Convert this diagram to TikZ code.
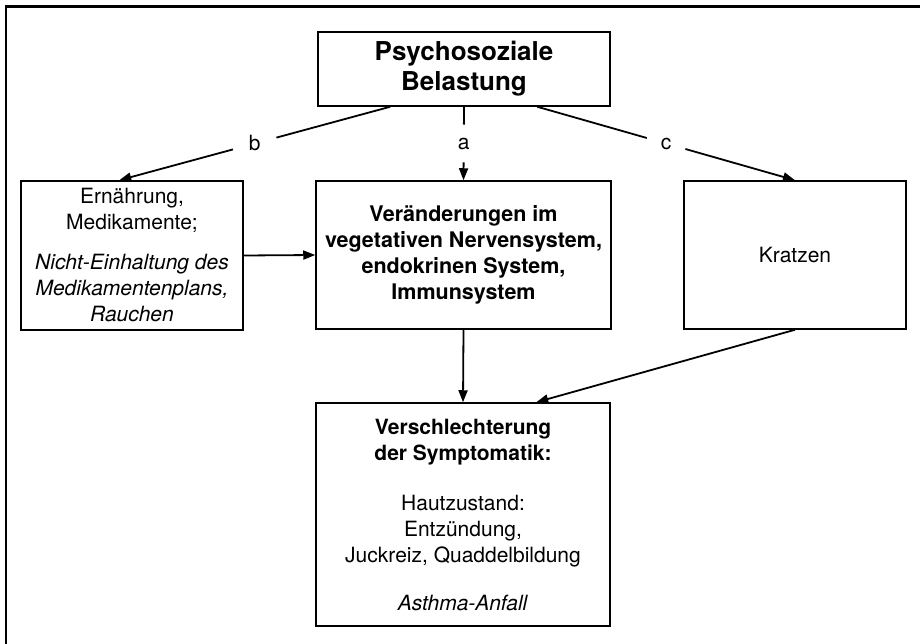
\documentclass[tikz,border=0pt]{standalone}
\usepackage{fontspec}
\setmainfont{TeX Gyre Heros}
\usetikzlibrary{arrows.meta,calc}
\begin{document}
\begin{tikzpicture}[x=1pt,y=-1pt,
  box/.style={draw, line width=1.5pt, align=center, inner sep=0pt, font=\fontsize{21}{26}\selectfont},
  conn/.style={line width=1.8pt, -{Triangle[length=12pt,width=9pt]}},
  lbl/.style={fill=white, circle, inner sep=0pt, font=\fontsize{21}{26}\selectfont}]
\useasboundingbox (0,0) rectangle (920,644);
\draw[line width=2.5pt] (6,644) -- (6,6.5) -- (920,6.5);

\node[box, minimum width=292pt, minimum height=74pt, font=\fontsize{26}{30}\selectfont\bfseries] (top) at (464,69) {Psychosoziale\\Belastung};

\node[box, minimum width=222pt, minimum height=149pt] (left) at (132,255.5)
  {Ernährung,\\ Medikamente;\\[14pt] \textit{Nicht-Einhaltung des}\\ \textit{Medikamentenplans,}\\ \textit{Rauchen}};

\node[box, minimum width=295pt, minimum height=148pt, font=\fontsize{21.5}{26}\selectfont\bfseries] (mid) at (463.5,255)
  {Veränderungen im\\ vegetativen Nervensystem,\\ endokrinen System,\\ Immunsystem};

\node[box, minimum width=222pt, minimum height=148pt] (right) at (795,255) {Kratzen};

\node[box, minimum width=294pt, minimum height=223pt] (bot) at (463,514.5)
  {\textbf{Verschlechterung}\\ \textbf{der Symptomatik:}\\[24pt] Hautzustand:\\ Entzündung,\\ Juckreiz, Quaddelbildung\\[22pt] \textit{Asthma-Anfall}};

\draw[conn] ([xshift=73pt]top.south west) -- node[lbl, minimum size=45pt]{b} ([xshift=99pt]left.north west);
\draw[conn] (top.south) -- node[lbl, minimum size=38pt]{a} (mid.north);
\draw[conn] ([xshift=220pt]top.south west) -- node[lbl, minimum size=40pt]{c} (right.north);
\draw[conn] (left.east) -- (mid.west);
\draw[conn] (mid.south) -- (bot.north);
\draw[conn] (right.south) -- ([xshift=221pt]bot.north west);
\end{tikzpicture}
\end{document}
